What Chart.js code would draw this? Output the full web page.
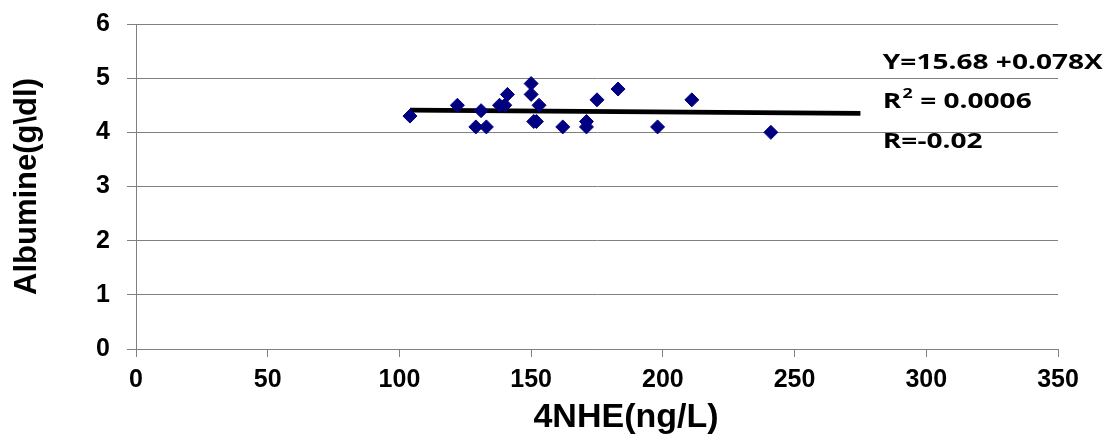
<!DOCTYPE html>
<html>
<head>
<meta charset="utf-8">
<script src="https://cdn.jsdelivr.net/npm/chart.js@4.4.0/dist/chart.umd.min.js"></script>
<style>
 html, body { margin: 0; padding: 0; background: #fff; }
 #wrap { width: 1110px; height: 434px; }
</style>
</head>
<body>
<div id="wrap"><canvas id="chart"></canvas></div>
<script>
// 4NHE (ng/L) vs albumine (g\dl)
const nhe = [104, 122, 129, 131, 133, 138, 140, 141, 150, 150, 151, 152, 153, 162, 171, 171, 175, 183, 198, 211, 241];
const albumine = [4.3, 4.5, 4.1, 4.4, 4.1, 4.5, 4.5, 4.7, 4.9, 4.7, 4.2, 4.2, 4.5, 4.1, 4.2, 4.1, 4.6, 4.8, 4.1, 4.6, 4.0];

// trend line ends
const trendX = [104, 275];
const trendY = [4.41, 4.35];

const xTicks = [0, 50, 100, 150, 200, 250, 300, 350];
const yTicks = [0, 1, 2, 3, 4, 5, 6];

const notes = ["Y=15.68 +0.078X", "R", "2", " = 0.0006", "R=-0.02"];
const xTitle = "4NHE(ng/L)";

const ctx = document.getElementById("chart").getContext("2d");
const font = "'Liberation Sans', Arial, sans-serif";
const grey = "#808080";

// equation text and the x title (which sits right of centre in the source)
const notePlugin = {
 id: "notes",
 afterDatasetsDraw(chart) {
  const c = chart.ctx;
  const left = chart.scales.x.getPixelForValue(283.5);
  const big = "bold 22px 'Open Sans', 'Liberation Sans', sans-serif";
  const small = "bold 14px 'Open Sans', 'Liberation Sans', sans-serif";
  c.save();
  c.fillStyle = "#000";
  c.textBaseline = "alphabetic";
  c.font = big;
  const k = 220 / c.measureText(notes[0]).width;
  c.translate(left, 0);
  c.scale(k, 1);
  c.fillText(notes[0], 0, 69);
  c.fillText(notes[1], 0, 108);
  const w = c.measureText(notes[1]).width;
  c.font = small;
  c.fillText(notes[2], w + 1, 98);
  const w2 = c.measureText(notes[2]).width;
  c.font = big;
  c.fillText(notes[3], w + w2 + 1, 108);
  c.fillText(notes[4], 0, 148);
  c.restore();

  c.save();
  c.fillStyle = "#000";
  c.font = "bold 34px " + font;
  c.textAlign = "center";
  c.textBaseline = "alphabetic";
  c.fillText(xTitle, chart.scales.x.getPixelForValue(186), 427);
  c.restore();
 },
};

new Chart(ctx, {
 type: "scatter",
 data: {
  datasets: [
   {
    type: "line",
    data: trendX.map((x, i) => ({ x, y: trendY[i] })),
    borderColor: "#000",
    borderWidth: 5,
    pointRadius: 0,
    fill: false,
    order: 2,
   },
   {
    data: nhe.map((x, i) => ({ x, y: albumine[i] })),
    pointStyle: "rectRot",
    pointRadius: 7,
    backgroundColor: "#000080",
    borderColor: "#000080",
    borderWidth: 1,
    order: 1,
   },
  ],
 },
 options: {
  responsive: true,
  maintainAspectRatio: false,
  animation: false,
  layout: { padding: { left: 0, right: 52, top: 24, bottom: 0 } },
  plugins: {
   legend: { display: false },
   tooltip: { enabled: false },
  },
  scales: {
   x: {
    type: "linear",
    min: 0,
    max: 350,
    afterBuildTicks: (s) => { s.ticks = xTicks.map((v) => ({ value: v })); },
    afterFit: (s) => { s.height = 85; },
    grid: { drawOnChartArea: false, drawTicks: true, tickLength: 8, color: grey },
    border: { color: grey, width: 1 },
    ticks: { color: "#000", font: { family: font, size: 25, weight: "bold" }, padding: 8, maxRotation: 0 },
   },
   y: {
    min: 0,
    max: 6,
    afterBuildTicks: (s) => { s.ticks = yTicks.map((v) => ({ value: v })); },
    afterFit: (s) => { s.width = 136; s.paddingTop = 0; s.paddingBottom = 0; },
    grid: { color: grey, tickLength: 9 },
    border: { color: grey, width: 1 },
    ticks: { color: "#000", font: { family: font, size: 25, weight: "bold" }, padding: 17 },
    title: {
     display: true,
     text: "Albumine(g\\dl)",
     color: "#000",
     font: { family: font, size: 31, weight: "bold", lineHeight: 1.1 },
     padding: { top: 10, bottom: 0 },
    },
   },
  },
 },
 plugins: [notePlugin],
});
</script>
</body>
</html>
